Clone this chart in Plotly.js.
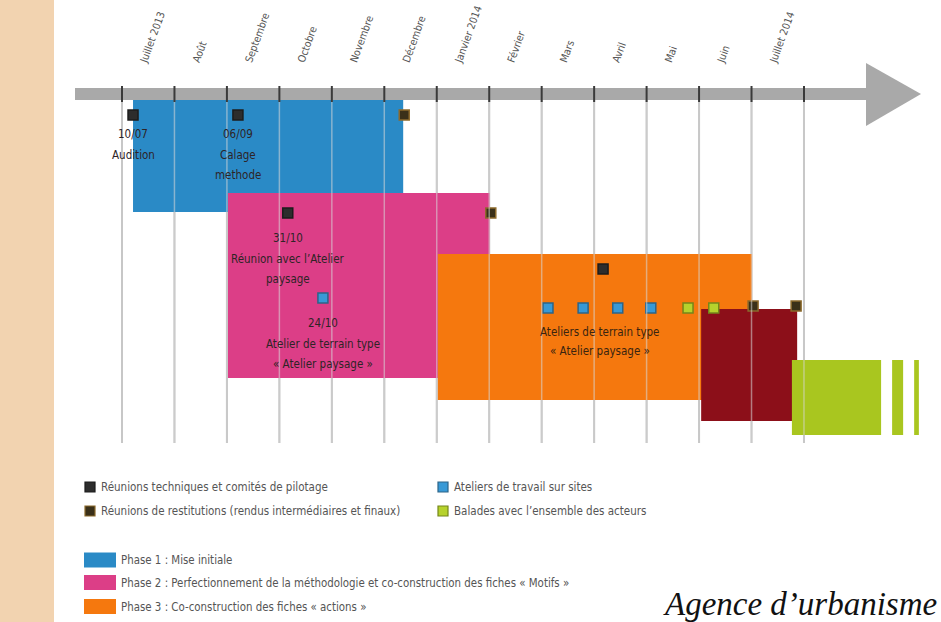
<!DOCTYPE html>
<html><head><meta charset="utf-8">
<script src="https://cdn.plot.ly/plotly-3.0.1.min.js"></script>
<style>html,body{margin:0;padding:0;background:#fff}#chart{width:941px;height:622px}</style>
</head><body><div id="chart"></div>
<script>
// ================= DATA =================
const months = ['Juillet 2013','Août','Septembre','Octobre','Novembre','Décembre','Janvier 2014','Février','Mars','Avril','Mai','Juin','Juillet 2014'];
// phase bars: start / end in months counted from 1 July 2013
const phaseNames = ['Phase 1 : Mise initiale',
  'Phase 2 : Perfectionnement de la méthodologie et co-construction des fiches « Motifs »',
  'Phase 3 : Co-construction des fiches « actions »',
  'Phase 4', 'Balades', 'Balades', 'Balades'];
const phaseStart = [0.21, 2.02, 6.02, 11.04, 12.77, 14.68, 15.10];
const phaseEnd   = [5.36, 7.01, 12.01, 12.87, 14.47, 14.89, 15.19];
// events (months from 1 July 2013)
const eventDates  = [0.21, 2.21, 5.38, 3.16, 7.03, 3.83, 9.17, 8.12, 8.79, 9.45, 10.08, 10.79, 11.28, 12.03, 12.85];
const eventTypes  = ['tech','tech','restit','tech','restit','atelier','tech','atelier','atelier','atelier','atelier','balade','balade','restit','restit'];
const eventLabels = ['10/07<br>Audition','06/09<br>Calage<br>methode','','31/10<br>Réunion avec l\u2019Atelier<br>paysage','',
  '24/10<br>Atelier de terrain type<br>« Atelier paysage »','','','','','','','','',''];
const groupLabel = 'Ateliers de terrain type<br>« Atelier paysage »';
const legendTypes = ['tech','restit','atelier','balade'];
const legendTypeText = ['Réunions techniques et comités de pilotage',
  'Réunions de restitutions (rendus intermédiaires et finaux)',
  'Ateliers de travail sur sites',
  'Balades avec l\u2019ensemble des acteurs'];
const phaseLegendCount = 3;
const footer = 'Agence d\u2019urbanisme';

// ================= STYLE / LAYOUT =================
const W = 941, H = 622;
const X0 = 122, PPM = 52.46;            // pixel of month 0, pixels per month
const COND = '"Liberation Sans Narrow", "DejaVu Sans Condensed", "DejaVu Sans", sans-serif';
const phaseColors = ['#2A8AC6','#DC3E87','#F5780E','#8C0F19','#A9C61F','#A9C61F','#A9C61F'];
const phaseBand = [[100,212],[193,378],[254,400],[309,421],[360,435],[360,435],[360,435]];
const eventRow  = [115,115,115,213,213,298,269,308,308,308,308,308,308,306,306];
const labelTop  = [134,134,null,238,null,323,null,null,null,null,null,null,null,null,null];
const groupTop = 332;
const typeStyle = {
  tech:    {fill:'#2d2d2d', line:'#1c1c1c'},
  restit:  {fill:'#3a3019', line:'#8c6a2c'},
  atelier: {fill:'#3899d6', line:'#2c6488'},
  balade:  {fill:'#b6d22c', line:'#74861a'}
};
const px = x => x / W, py = y => 1 - y / H;

const nM = months.length;
const boundaries = Array.from({length: nM + 1}, (_, i) => i);
const labelPos = months.map((_, i) => i + 0.38);
const xRange = [-X0 / PPM, (W - X0) / PPM];

const traces = [];
traces.push({
  type: 'bar', orientation: 'h',
  base: phaseStart,
  x: phaseEnd.map((e, i) => e - phaseStart[i]),
  y: phaseBand.map(b => (b[0] + b[1]) / 2),
  width: phaseBand.map(b => b[1] - b[0]),
  marker: {color: phaseColors, line: {width: 0}},
  hoverinfo: 'skip', showlegend: false
});
traces.push({
  type: 'scatter', mode: 'markers',
  x: eventDates, y: eventRow,
  marker: {symbol: 'square', size: 10,
    color: eventTypes.map(t => typeStyle[t].fill),
    line: {color: eventTypes.map(t => typeStyle[t].line), width: 1.5}},
  hoverinfo: 'skip', showlegend: false
});
// carrier for the month axis
traces.push({type: 'scatter', mode: 'markers', x: labelPos, y: labelPos.map(() => null),
  xaxis: 'x2', yaxis: 'y', hoverinfo: 'skip', showlegend: false});

const shapes = [];
// beige strip
shapes.push({type: 'rect', xref: 'paper', yref: 'paper', x0: 0, x1: px(54), y0: 0, y1: 1,
  fillcolor: '#F2D3B0', line: {width: 0}, layer: 'below'});
// gridlines (below + translucent above bars)
boundaries.forEach(b => {
  shapes.push({type: 'line', xref: 'x', yref: 'y', x0: b, x1: b, y0: 100, y1: 443,
    line: {color: '#bdbdbd', width: 2}, layer: 'below'});
  shapes.push({type: 'line', xref: 'x', yref: 'y', x0: b, x1: b, y0: 100, y1: 443,
    line: {color: 'rgba(215,215,215,0.55)', width: 1.5}, layer: 'above'});
});
// timeline arrow
shapes.push({type: 'rect', xref: 'paper', yref: 'paper', x0: px(75), x1: px(868), y0: py(100), y1: py(88),
  fillcolor: '#A9A9A9', line: {width: 0}, layer: 'above'});
shapes.push({type: 'path', xref: 'paper', yref: 'paper',
  path: `M ${px(866)} ${py(63)} L ${px(921)} ${py(94)} L ${px(866)} ${py(126)} Z`,
  fillcolor: '#A9A9A9', line: {width: 0}, layer: 'above'});
boundaries.forEach(b => {
  shapes.push({type: 'line', xref: 'x', yref: 'y', x0: b, x1: b, y0: 86, y1: 102,
    line: {color: '#3a3a3a', width: 2}, layer: 'above'});
});

const annotations = [];
// event labels
eventLabels.forEach((lab, i) => {
  if (!lab) return;
  lab.split('<br>').forEach((line, k) => {
    annotations.push({xref: 'x', yref: 'y', x: eventDates[i], y: labelTop[i] + k * 20.5,
      text: line, showarrow: false, xanchor: 'center', yanchor: 'middle',
      font: {family: COND, size: 11.5, color: '#2e2426'}});
  });
});
const atelierDates = eventDates.filter((d, i) => eventTypes[i] === 'atelier' && eventRow[i] === 308);
const groupX = atelierDates.reduce((a, b) => a + b, 0) / atelierDates.length;
groupLabel.split('<br>').forEach((line, k) => {
  annotations.push({xref: 'x', yref: 'y', x: groupX, y: groupTop + k * 18.5,
    text: line, showarrow: false, xanchor: 'center', yanchor: 'middle',
    font: {family: COND, size: 11.5, color: '#3a2410'}});
});
// marker legend
const legPos = [[85, 487], [85, 511], [438, 487], [438, 511]];
legendTypes.forEach((t, i) => {
  const [lx, ly] = legPos[i];
  shapes.push({type: 'rect', xref: 'paper', yref: 'paper', x0: px(lx), x1: px(lx + 10),
    y0: py(ly + 5), y1: py(ly - 5), fillcolor: typeStyle[t].fill,
    line: {color: typeStyle[t].line, width: 1.2}});
  annotations.push({xref: 'paper', yref: 'paper', x: px(lx + 14), y: py(ly), text: legendTypeText[i],
    showarrow: false, xanchor: 'left', yanchor: 'middle',
    font: {family: COND, size: 11.5, color: '#555'}});
});
// phase legend
const phaseRows = [560, 582.5, 606.5];
for (let i = 0; i < phaseLegendCount; i++) {
  const ly = phaseRows[i];
  shapes.push({type: 'rect', xref: 'paper', yref: 'paper', x0: px(84), x1: px(116),
    y0: py(ly + 7.5), y1: py(ly - 7.5), fillcolor: phaseColors[i], line: {width: 0}});
  annotations.push({xref: 'paper', yref: 'paper', x: px(119), y: py(ly), text: phaseNames[i],
    showarrow: false, xanchor: 'left', yanchor: 'middle',
    font: {family: COND, size: 11.4, color: '#555'}});
}
annotations.push({xref: 'paper', yref: 'paper', x: px(661), y: py(604), text: footer,
  showarrow: false, xanchor: 'left', yanchor: 'middle',
  font: {family: '"Liberation Serif", "Times New Roman", serif', size: 33, style: 'italic', color: '#111'}});

const layout = {
  width: W, height: H,
  margin: {l: 0, r: 0, t: 0, b: 0},
  paper_bgcolor: '#ffffff', plot_bgcolor: '#ffffff',
  showlegend: false, barmode: 'overlay',
  xaxis: {range: xRange, visible: false, fixedrange: true},
  xaxis2: {range: xRange, overlaying: 'x', anchor: 'free', position: py(88), side: 'top',
    tickmode: 'array', tickvals: labelPos, ticktext: months, tickangle: -70,
    ticks: 'outside', ticklen: 17, tickcolor: 'rgba(0,0,0,0)',
    showgrid: false, zeroline: false, showline: false,
    tickfont: {family: COND, size: 10.5, color: '#555'}},
  yaxis: {range: [H, 0], visible: false, fixedrange: true},
  shapes: shapes,
  annotations: annotations
};
Plotly.newPlot('chart', traces, layout, {displayModeBar: false, staticPlot: true});
</script>
</body></html>
